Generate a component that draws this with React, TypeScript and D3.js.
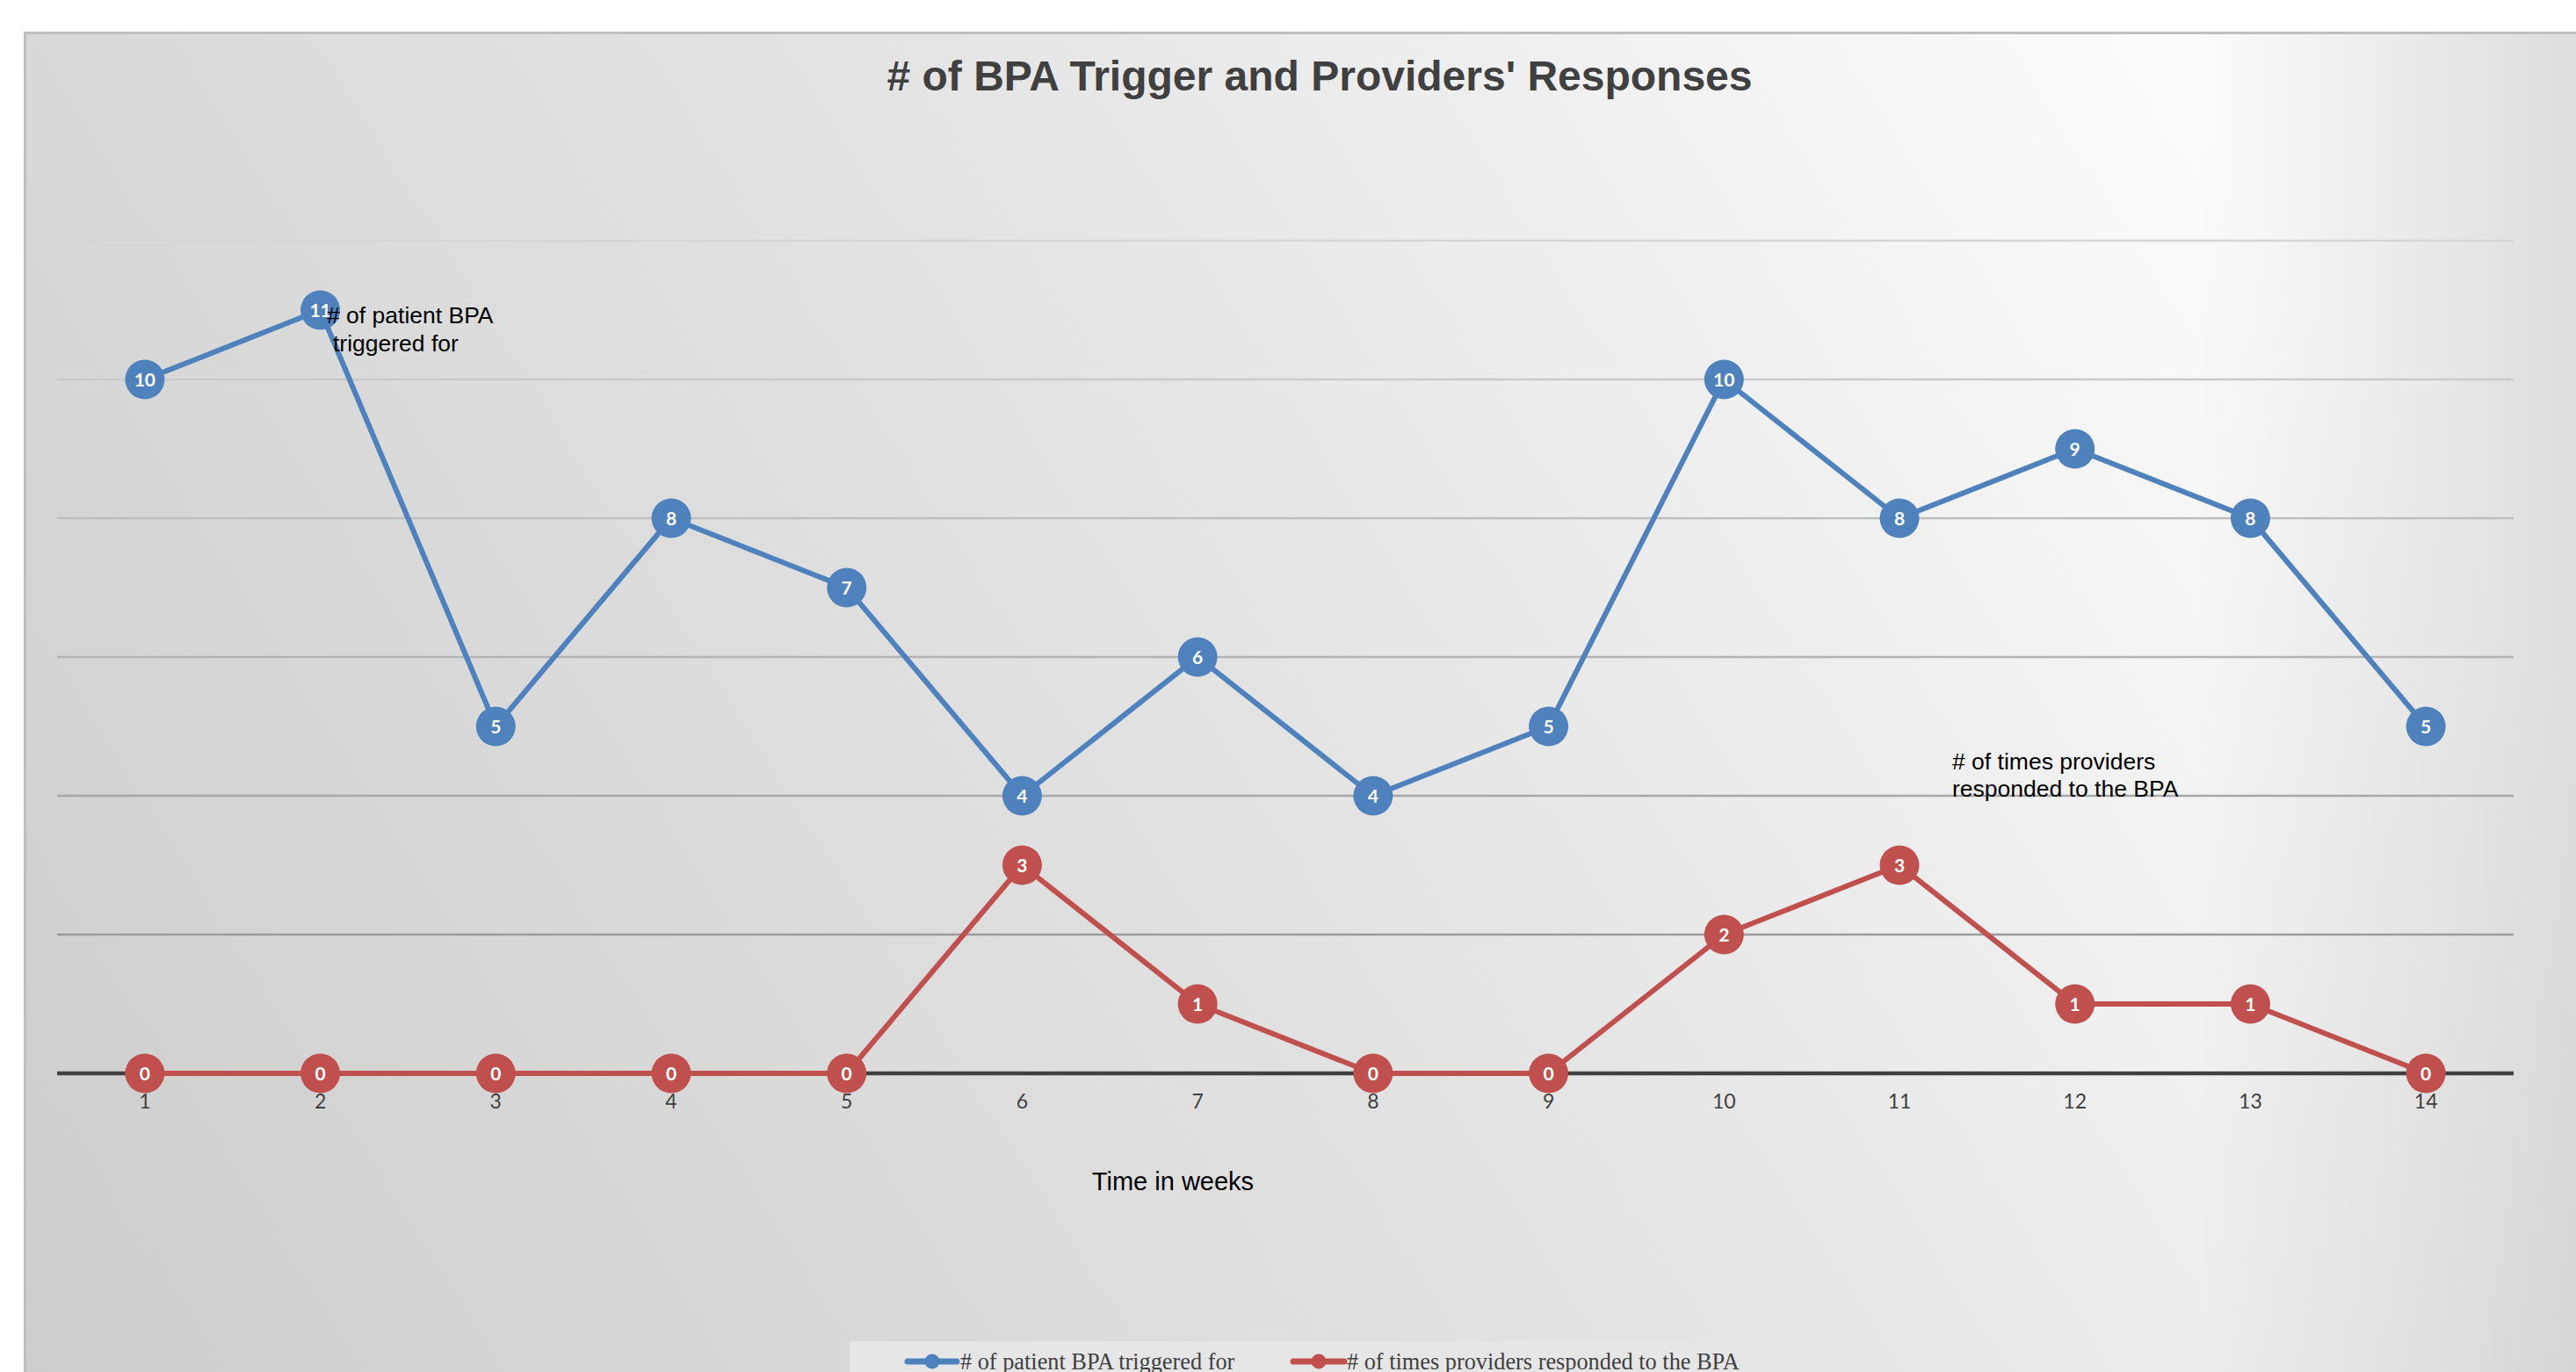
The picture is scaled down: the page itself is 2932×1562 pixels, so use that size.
import React from "react";
import * as d3 from "d3";

const weeks = [1, 2, 3, 4, 5, 6, 7, 8, 9, 10, 11, 12, 13, 14];
const triggered = [10, 11, 5, 8, 7, 4, 6, 4, 5, 10, 8, 9, 8, 5];
const responded = [0, 0, 0, 0, 0, 3, 1, 0, 0, 2, 3, 1, 1, 0];
const gridValues = [2, 4, 6, 8, 10, 12];
const seriesNames = ["# of patient BPA triggered for", "# of times providers responded to the BPA"];
const seriesColors = ["#4F81BD", "#C0504D"];
const titleText = "# of BPA Trigger and Providers' Responses";
const xAxisTitle = "Time in weeks";
const annotation1 = ["# of patient BPA", "triggered for"];
const annotation2 = ["# of times providers", "responded to the BPA"];

const W = 2932;
const H = 1562;

export default function App() {
  const x = d3.scaleBand<number>().domain(weeks).range([65, 2861]).padding(0);
  const y = d3.scaleLinear().domain([0, 12]).range([1222, 274]);
  const cx = (w: number) => (x(w) as number) + x.bandwidth() / 2;
  const line = d3
    .line<number>()
    .x((_, i) => cx(weeks[i]))
    .y((d) => y(d));
  const gridColor = d3
    .scaleLinear<string>()
    .domain([12, 2])
    .range(["#d6d6d6", "#9c9c9c"]);
  const series = [triggered, responded];

  return (
    <div style={{ position: "absolute", left: 0, top: 0 }}>
      <svg width={W} height={H} style={{ display: "block" }}>
        <defs>
          <linearGradient id="bg" gradientUnits="userSpaceOnUse" x1={28} y1={1562} x2={2450} y2={37}>
            <stop offset="0" stopColor="#cdcdcd" />
            <stop offset="0.55" stopColor="#e3e3e3" />
            <stop offset="1" stopColor="#fbfbfb" />
          </linearGradient>
          <linearGradient id="rightShade" gradientUnits="userSpaceOnUse" x1={2500} y1={0} x2={2932} y2={0}>
            <stop offset="0" stopColor="#000" stopOpacity="0" />
            <stop offset="1" stopColor="#000" stopOpacity="0.12" />
          </linearGradient>
        </defs>
        <rect x={0} y={0} width={W} height={H} fill="#ffffff" />
        <rect x={28} y={37} width={W} height={H} fill="url(#bg)" />
        <rect x={28} y={37} width={W} height={H} fill="url(#rightShade)" />
        <path d={`M28.5,${H} V37.5 H${W}`} fill="none" stroke="#bfbfbf" strokeWidth={3} />

        {gridValues.map((v) => (
          <line key={v} x1={65} x2={2861} y1={y(v)} y2={y(v)} stroke={gridColor(v)} strokeWidth={2.5} />
        ))}
        <line x1={65} x2={2861} y1={y(0)} y2={y(0)} stroke="#404040" strokeWidth={4.5} />

        <text x={1502} y={103} textAnchor="middle" fontFamily="'Liberation Sans', Arial, sans-serif" fontWeight="bold" fontSize={48} fill="#404040">
          {titleText}
        </text>

        {weeks.map((w) => (
          <text key={w} x={cx(w)} y={1262} textAnchor="middle" fontFamily="Lato, 'Open Sans', sans-serif" fontSize={23} fill="#404040">
            {w}
          </text>
        ))}

        <text x={1335} y={1355} textAnchor="middle" fontFamily="'Liberation Sans', Arial, sans-serif" fontSize={29} fill="#000">
          {xAxisTitle}
        </text>

        {series.map((s, si) => (
          <g key={si}>
            <path d={line(s) || ""} fill="none" stroke={seriesColors[si]} strokeWidth={6} strokeLinejoin="round" />
            {s.map((v, i) => (
              <g key={i}>
                <circle cx={cx(weeks[i])} cy={y(v)} r={22.5} fill={seriesColors[si]} />
                <text x={cx(weeks[i])} y={y(v) + 7.5} textAnchor="middle" fontFamily="Lato, 'Open Sans', sans-serif" fontWeight="bold" fontSize={21} fill="#ffffff">
                  {v}
                </text>
              </g>
            ))}
          </g>
        ))}

        <text fontFamily="'Liberation Sans', Arial, sans-serif" fontSize={26.5} fill="#000">
          <tspan x={372} y={368}>{annotation1[0]}</tspan>
          <tspan x={379} y={400}>{annotation1[1]}</tspan>
        </text>
        <text fontFamily="'Liberation Sans', Arial, sans-serif" fontSize={26.5} fill="#000">
          <tspan x={2222} y={876}>{annotation2[0]}</tspan>
          <tspan x={2222} y={907}>{annotation2[1]}</tspan>
        </text>

        <rect x={967} y={1527} width={1076} height={60} fill="#e6e6e6" />
        {[
          { lx1: 1033, lx2: 1089, mx: 1061, tx: 1093 },
          { lx1: 1472, lx2: 1530, mx: 1501, tx: 1533 },
        ].map((e, i) => (
          <g key={i}>
            <line x1={e.lx1} x2={e.lx2} y1={1550} y2={1550} stroke={seriesColors[i]} strokeWidth={7} strokeLinecap="round" />
            <circle cx={e.mx} cy={1550} r={8.5} fill={seriesColors[i]} />
            <text x={e.tx} y={1559} fontFamily="'Liberation Serif', 'Times New Roman', serif" fontSize={26.3} fill="#404040">
              {seriesNames[i]}
            </text>
          </g>
        ))}
      </svg>
    </div>
  );
}
